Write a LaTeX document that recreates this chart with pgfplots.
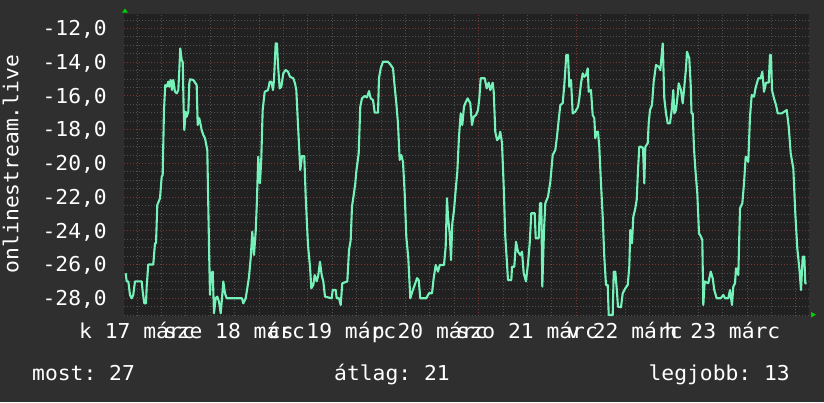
\documentclass[border=0pt]{standalone}
\usepackage{pgfplots}
\pgfplotsset{compat=1.18}
\usepackage{fontspec}
\setmainfont{DejaVu Sans Mono}[FakeStretch=1.04]
\frenchspacing
\definecolor{backc}{HTML}{2F2F2F}
\definecolor{canvasc}{HTML}{212121}
\definecolor{linec}{HTML}{74F2B9}
\definecolor{minorc}{HTML}{505050}
\definecolor{majorc}{HTML}{7A3535}
\definecolor{arrowc}{HTML}{00D000}
\definecolor{textc}{HTML}{FFFFFF}
\pgfplotstableread{
h v
9.25 -26.52
9.49 -27.0
9.89 -27.0
10.30 -27.8
10.72 -28.0
11.11 -27.8
11.53 -27.0
13.18 -27.0
13.43 -27.61
13.82 -28.3
14.24 -28.3
14.41 -27.3
14.80 -26.0
16.03 -26.0
16.45 -24.74
16.70 -24.74
17.02 -22.47
17.68 -22.07
18.10 -20.79
18.34 -20.7
18.66 -16.84
18.98 -15.36
19.33 -15.46
19.72 -15.16
19.97 -15.46
20.31 -15.06
20.63 -15.66
20.95 -15.06
21.37 -15.76
21.79 -15.85
22.18 -15.66
22.43 -14.47
22.67 -13.19
23.02 -13.88
23.26 -13.98
23.51 -16.84
23.66 -18.03
24.00 -16.94
24.25 -17.24
24.64 -16.94
24.89 -15.26
25.06 -15.02
25.87 -15.06
26.70 -15.36
26.95 -17.73
27.34 -17.33
27.69 -17.73
27.93 -18.03
28.33 -18.32
28.75 -18.52
29.31 -19.21
29.56 -22.57
29.80 -25.73
29.98 -27.8
30.22 -26.52
30.64 -26.42
30.96 -28.89
31.38 -28.0
31.77 -27.9
32.19 -28.2
32.61 -28.89
32.93 -28.0
33.25 -27.0
33.66 -27.7
34.08 -28.0
37.84 -28.0
38.16 -28.3
38.75 -28.0
39.15 -27.41
39.57 -26.72
39.98 -25.63
40.38 -24.05
40.79 -25.43
41.21 -24.05
41.46 -22.57
41.85 -19.61
42.27 -21.19
42.59 -19.70
42.93 -16.84
43.43 -15.76
44.24 -15.66
44.66 -15.16
45.05 -15.16
45.47 -15.66
45.71 -15.06
46.13 -12.89
46.45 -12.89
46.70 -14.17
47.11 -15.56
47.51 -15.46
48.00 -14.67
48.59 -14.47
49.16 -14.57
49.65 -14.87
50.46 -14.96
50.88 -15.26
51.20 -15.66
51.54 -17.33
51.93 -19.21
52.18 -20.40
52.60 -19.57
53.16 -19.57
53.51 -21.98
54.07 -24.84
54.57 -26.13
54.89 -27.41
55.38 -27.21
55.72 -26.62
56.21 -27.0
56.61 -26.62
57.02 -25.83
57.44 -26.62
57.84 -27.0
58.25 -27.9
59.90 -28.0
60.15 -27.51
60.89 -27.51
61.13 -28.0
61.70 -28.0
62.11 -28.4
62.51 -27.11
63.74 -27.0
64.16 -25.14
64.57 -24.55
64.89 -22.57
65.31 -21.88
65.70 -21.19
65.95 -20.50
66.54 -19.41
66.93 -16.65
67.35 -16.15
68.02 -16.01
68.58 -16.09
69.07 -15.72
69.49 -16.15
70.06 -16.25
70.48 -17.0
71.29 -17.0
71.53 -14.96
71.95 -14.37
72.52 -13.98
73.75 -13.98
74.41 -14.17
74.98 -14.37
75.39 -15.46
75.79 -16.44
76.20 -17.63
76.62 -19.80
77.02 -19.51
77.43 -19.91
77.85 -21.78
78.25 -24.35
78.74 -25.63
79.23 -28.0
79.72 -27.61
80.31 -27.21
80.88 -26.81
81.29 -26.91
81.69 -28.0
83.16 -28.0
83.83 -27.7
84.57 -27.7
84.98 -26.81
85.48 -26.03
86.04 -26.42
86.46 -26.03
87.52 -26.03
87.93 -24.94
88.25 -22.07
88.50 -23.16
88.92 -24.15
89.24 -25.73
89.56 -23.56
89.98 -22.77
90.39 -21.58
90.79 -20.50
91.20 -18.42
91.62 -17.04
92.02 -17.73
92.43 -16.65
92.75 -16.44
93.34 -16.15
93.98 -16.44
94.40 -17.73
94.82 -17.24
95.38 -17.14
95.88 -16.84
96.20 -16.15
96.54 -14.96
97.52 -14.96
98.02 -15.56
98.51 -15.22
98.90 -15.66
99.49 -15.22
99.74 -15.76
100.13 -18.13
100.55 -18.62
100.97 -18.52
101.36 -18.13
101.78 -18.81
102.20 -21.39
102.59 -24.35
103.01 -25.93
103.25 -26.92
104.07 -26.92
104.24 -26.13
104.80 -26.13
105.22 -24.65
105.71 -25.24
106.28 -25.43
106.70 -25.24
107.12 -26.52
107.68 -27.0
108.17 -25.93
108.59 -24.74
108.98 -22.96
109.82 -22.96
110.07 -24.44
110.80 -24.44
111.12 -22.37
111.44 -22.37
111.69 -27.31
112.11 -23.95
112.43 -22.37
113.09 -21.98
113.66 -21.09
114.25 -19.51
114.89 -19.21
115.30 -18.42
115.72 -17.43
116.12 -16.55
116.70 -16.44
117.10 -15.36
117.59 -13.58
118.01 -13.58
118.33 -15.46
118.75 -15.06
119.16 -17.04
119.80 -16.94
120.47 -16.65
120.79 -16.15
121.21 -15.26
121.63 -14.67
122.02 -14.87
122.44 -14.77
122.85 -14.37
123.10 -15.76
123.66 -15.66
124.08 -17.14
124.48 -17.33
124.72 -18.52
125.07 -18.13
125.38 -18.13
125.70 -19.02
126.12 -21.19
126.54 -23.16
126.93 -25.53
127.35 -27.21
127.77 -27.21
128.02 -28.99
129.00 -28.99
129.25 -26.42
129.64 -26.42
129.98 -27.41
130.30 -28.50
131.04 -28.53
131.46 -27.7
132.10 -27.41
132.69 -27.21
133.08 -26.13
133.33 -23.95
133.74 -24.74
134.07 -23.16
134.48 -22.77
134.90 -22.17
135.22 -20.40
135.54 -19.02
136.03 -19.02
136.45 -19.11
136.77 -21.19
137.02 -19.02
137.61 -18.81
137.85 -17.63
138.17 -16.84
138.66 -16.55
139.08 -15.16
139.65 -14.17
140.31 -14.28
140.71 -14.47
141.30 -12.89
141.69 -16.15
142.11 -17.04
142.52 -17.63
143.09 -17.63
143.51 -16.84
143.90 -15.66
144.15 -17.04
144.57 -16.84
144.98 -15.95
145.23 -15.26
145.79 -15.66
146.21 -16.44
146.61 -15.46
147.02 -14.37
147.27 -13.39
147.83 -13.78
148.18 -15.36
148.38 -17.04
148.67 -17.04
148.99 -19.11
149.31 -20.30
149.80 -21.78
150.22 -24.15
150.71 -24.35
151.03 -24.55
151.28 -28.40
151.62 -27.0
152.51 -27.11
153.10 -26.42
153.59 -26.81
153.98 -27.51
154.57 -28.0
155.56 -28.0
156.20 -27.8
156.61 -28.0
157.42 -28.0
157.84 -27.51
158.33 -28.40
158.66 -27.31
159.07 -27.11
159.32 -26.22
159.89 -26.62
160.30 -22.67
160.87 -22.37
161.29 -21.19
161.70 -19.61
162.34 -19.91
162.76 -17.24
163.18 -15.95
163.75 -16.05
164.16 -15.50
164.80 -14.96
165.39 -14.96
165.79 -14.57
166.21 -15.76
166.70 -15.22
167.36 -15.22
167.68 -13.58
167.93 -13.58
168.17 -15.66
168.66 -16.15
169.16 -16.55
169.58 -17.04
170.56 -17.04
171.20 -16.94
171.79 -16.84
172.28 -17.83
172.77 -19.41
173.41 -20.30
173.90 -22.96
174.39 -25.04
174.89 -26.22
175.30 -27.51
175.72 -25.53
176.12 -25.53
176.36 -27.11
176.71 -27.11
}\rankdata
\begin{document}
\begin{tikzpicture}[font=\fontsize{20.5}{24}\selectfont]
\useasboundingbox (0,0) rectangle (824pt,402pt);
\fill[backc] (0,0) rectangle (824pt,402pt);
\begin{axis}[at={(124pt,86pt)}, anchor=south west, scale only axis,
 width=685pt, height=302pt,
 xmin=8.83, xmax=177.27, ymin=-29.05, ymax=-11.15,
 axis background/.style={fill=canvasc},
 axis line style={draw=none},
 xtick={24,48,72,96,120,144,168}, xticklabels={},
 minor xtick={12,18,30,36,42,54,60,66,78,84,90,102,108,114,126,132,138,150,156,162,174},
 extra x ticks={12,36,60,84,108,132,156},
 extra x tick labels={k 17 márc,sze 18 márc,cs 19 márc,p 20 márc,szo 21 márc,v 22 márc,h 23 márc},
 extra x tick style={grid=none, major tick length=0pt},
 ytick={-28,-26,-24,-22,-20,-18,-16,-14,-12},
 yticklabels={{-28,0},{-26,0},{-24,0},{-22,0},{-20,0},{-18,0},{-16,0},{-14,0},{-12,0}},
 minor ytick={-29,-28.5,-27.5,-27,-26.5,-25.5,-25,-24.5,-23.5,-23,-22.5,-21.5,-21,-20.5,-19.5,-19,-18.5,-17.5,-17,-16.5,-15.5,-15,-14.5,-13.5,-13,-12.5,-11.5},
 grid=both,
 major grid style={majorc, line width=0.8pt, dash pattern=on 1pt off 2pt},
 minor grid style={minorc, line width=0.7pt, dash pattern=on 1pt off 2pt},
 major tick length=0pt, minor tick length=0pt,
 tick label style={font=\fontsize{20.5}{24}\selectfont, text=textc, inner sep=0pt},
 yticklabel style={anchor=base east, xshift=-17pt, yshift=-7.4pt},
 xticklabel style={anchor=base, yshift=-22.3pt},
]
\addplot[linec, line width=2.1pt, line join=round] table[x=h, y=v] {\rankdata};
\end{axis}
\fill[arrowc] (122pt,389.3pt) -- (128pt,389.3pt) -- (125pt,393.5pt) -- cycle;
\fill[arrowc] (811pt,84.5pt) -- (811pt,90pt) -- (816pt,87.3pt) -- cycle;
\node[rotate=90, anchor=base, text=textc, inner sep=0pt] at (18.3pt,238pt) {onlinestream.live};
\node[anchor=base west, text=textc, inner sep=0pt] at (32pt,22pt) {most: 27};
\node[anchor=base west, text=textc, inner sep=0pt] at (334pt,22pt) {átlag: 21};
\node[anchor=base east, text=textc, inner sep=0pt] at (790pt,22pt) {legjobb: 13};
\end{tikzpicture}
\end{document}
